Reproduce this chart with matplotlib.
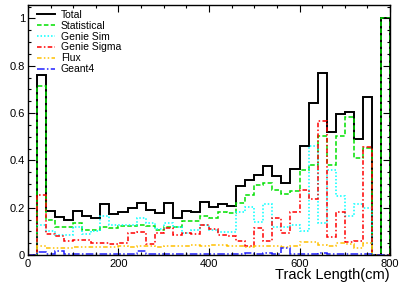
import numpy as np
import matplotlib.pyplot as plt
from matplotlib.lines import Line2D
from matplotlib.ticker import MultipleLocator, FuncFormatter

plt.rcParams['font.family'] = ['Liberation Sans', 'DejaVu Sans']

edges = np.arange(0, 801, 20)

total = [0, 0.76, 0.187, 0.162, 0.148, 0.187, 0.166, 0.158, 0.214, 0.173,
         0.180, 0.197, 0.221, 0.190, 0.179, 0.221, 0.158, 0.186, 0.183, 0.225,
         0.204, 0.217, 0.207, 0.293, 0.318, 0.338, 0.377, 0.335, 0.303, 0.365,
         0.461, 0.644, 0.771, 0.521, 0.595, 0.606, 0.492, 0.669, 0, 1.0]
statistical = [0, 0.715, 0.148, 0.118, 0.118, 0.134, 0.106, 0.104, 0.12, 0.113,
               0.124, 0.124, 0.127, 0.124, 0.106, 0.12, 0.12, 0.144, 0.144, 0.163,
               0.155, 0.18, 0.178, 0.221, 0.255, 0.294, 0.305, 0.275, 0.257, 0.271,
               0.36, 0.381, 0.503, 0.381, 0.503, 0.582, 0.411, 0.451, 0, 1.0]
genie_sim = [0, 0.127, 0.10, 0.085, 0.085, 0.118, 0.09, 0.10, 0.167, 0.127,
             0.127, 0.127, 0.155, 0.134, 0.109, 0.134, 0.12, 0.092, 0.106, 0.127,
             0.106, 0.099, 0.099, 0.18, 0.205, 0.139, 0.214, 0.12, 0.12, 0.127,
             0.10, 0.461, 0.137, 0.36, 0.25, 0.165, 0.214, 0.2, 0, 0]
genie_sigma = [0, 0.254, 0.09, 0.08, 0.06, 0.063, 0.065, 0.052, 0.05, 0.047,
               0.05, 0.092, 0.099, 0.047, 0.092, 0.113, 0.085, 0.094, 0.087, 0.125,
               0.11, 0.085, 0.08, 0.06, 0.04, 0.113, 0.06, 0.155, 0.095, 0.183,
               0.275, 0.235, 0.567, 0.075, 0.183, 0.056, 0.06, 0.455, 0, 0]
flux = [0, 0.037, 0.028, 0.028, 0.03, 0.032, 0.033, 0.033, 0.035, 0.035,
        0.036, 0.035, 0.037, 0.036, 0.035, 0.038, 0.037, 0.04, 0.042, 0.04,
        0.043, 0.042, 0.04, 0.036, 0.035, 0.038, 0.036, 0.037, 0.034, 0.036,
        0.056, 0.055, 0.042, 0.04, 0.05, 0.048, 0.03, 0.05, 0, 0]
geant4 = [0, 0.012, 0.006, 0.015, 0.005, 0.006, 0.004, 0.005, 0.006, 0.004,
          0.005, 0.006, 0.018, 0.005, 0.004, 0.006, 0.005, 0.004, 0.006, 0.005,
          0.004, 0.005, 0.006, 0.005, 0.008, 0.005, 0.01, 0.005, 0.028, 0.006,
          0.004, 0.006, 0.01, 0.005, 0.004, 0.006, 0.005, 0.004, 0, 0]

series = [
    ("Total", total, "black", 1.4, None),
    ("Statistical", statistical, "#00e000", 1.1, (3, 1.5)),
    ("Genie Sim", genie_sim, "#00ffff", 1.1, (1, 1.3)),
    ("Genie Sigma", genie_sigma, "#ff0000", 1.1, (3, 1.5, 1, 1.5)),
    ("Flux", flux, "#ffc000", 1.1, (3, 1.5, 1, 1.5, 1, 1.5)),
    ("Geant4", geant4, "#2020ff", 1.1, (5, 1.5, 1, 1.5)),
]

fig = plt.figure(figsize=(4.02, 2.83), dpi=100)
ax = fig.add_axes([28 / 402, 28 / 283, 362 / 402, 250 / 283])

handles = []
for name, vals, col, lw, dash in series:
    ls = '-' if dash is None else (0, dash)
    ax.stairs(vals, edges, color=col, lw=lw, linestyle=ls)
    handles.append(Line2D([], [], color=col, lw=lw, linestyle=ls, label=name))

ax.set_xlim(0, 800)
ax.set_ylim(0, 1.057)
ax.xaxis.set_major_locator(MultipleLocator(200))
ax.xaxis.set_minor_locator(MultipleLocator(50))
ax.yaxis.set_major_locator(MultipleLocator(0.2))
ax.yaxis.set_minor_locator(MultipleLocator(0.05))
ax.yaxis.set_major_formatter(FuncFormatter(lambda v, p: f"{v:g}"))
ax.tick_params(which='both', direction='in', top=True, right=True, labelsize=8)
ax.tick_params(which='major', length=5, width=0.8)
ax.tick_params(which='minor', length=2.5, width=0.8)
ax.tick_params(axis='y', pad=2)
ax.tick_params(axis='x', pad=3)
for s in ax.spines.values():
    s.set_linewidth(1.0)

ax.legend(handles=handles, loc='upper left', bbox_to_anchor=(0.024, 0.98),
          frameon=False, fontsize=7.5, handlelength=1.8, handletextpad=0.5,
          labelspacing=0.08, borderpad=0, borderaxespad=0)

fig.text(390 / 402, 1 - 275 / 283, "Track Length(cm)", ha='right', va='center',
         fontsize=10.5)

fig.savefig("out.png", dpi=100)
